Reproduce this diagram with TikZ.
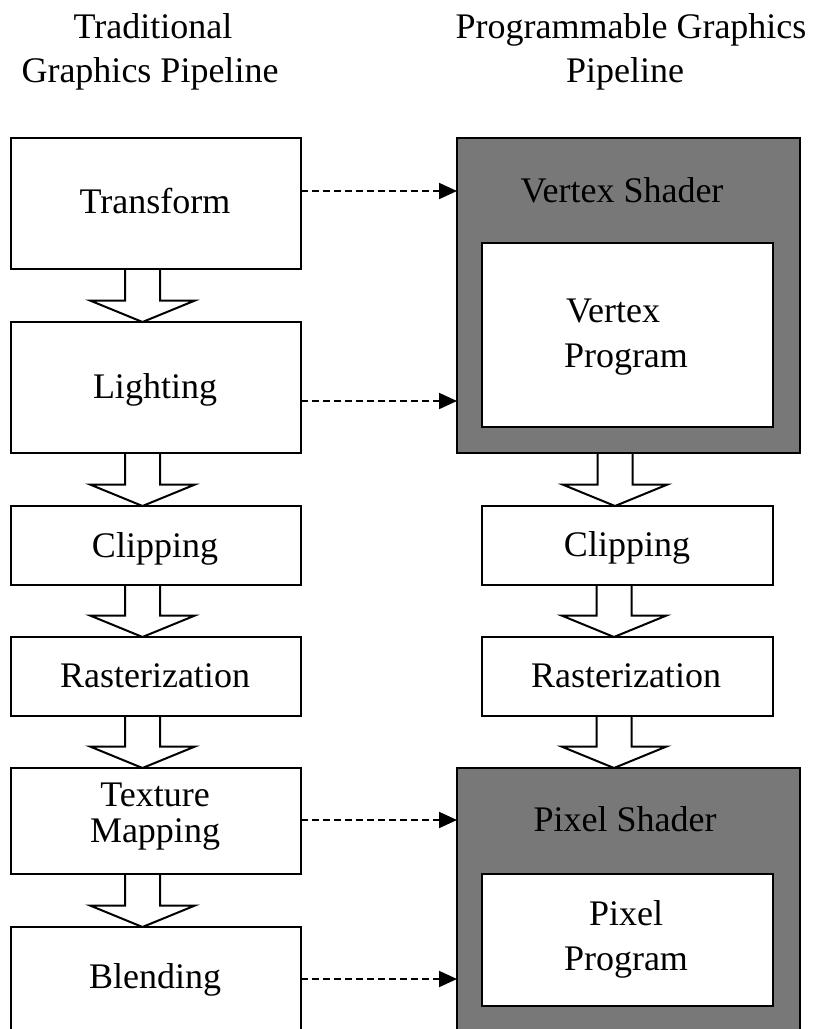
\documentclass[tikz,border=0pt]{standalone}
\usepackage{fontspec}
\setmainfont{Liberation Serif}
\usetikzlibrary{arrows.meta,calc}
\tikzset{
  box/.style={draw=black, line width=2pt, rectangle, inner sep=0pt, outer sep=0pt},
  shader/.style={box, fill=shadegray},
  inbox/.style={box, fill=white},
  txt/.style={font=\fontsize{36}{45}\selectfont, inner sep=0pt, outer sep=0pt},
  dasharr/.style={line width=2pt, dash pattern=on 7pt off 4pt, -{Triangle[length=18pt,width=16pt]}},
  blk/.style={line width=2pt, line join=miter, draw=black}
}
\definecolor{shadegray}{RGB}{120,120,120}
\newcommand\blkarrow[2]{\draw[blk] let \p1=(#1.south), \p2=(#2.north) in
  (\x1-31pt,\y1) -- (\x1-31pt,\y2+21.5pt) -- (\x1-66pt,\y2+21.5pt) -- (\x1-13.5pt,\y2)
  -- (\x1+39pt,\y2+21.5pt) -- (\x1+4pt,\y2+21.5pt) -- (\x1+4pt,\y1);}
\begin{document}
\begin{tikzpicture}[x=1pt,y=-1pt]
\clip (0,0) rectangle (818,1029);
\fill[white] (0,0) rectangle (818,1029);
% titles
\node[txt, anchor=base] (t1) at (153,38) {Traditional};
\node[txt, anchor=base] (t2) at (150,82) {Graphics Pipeline};
\node[txt, anchor=base] (t3) at (631,38) {Programmable Graphics};
\node[txt, anchor=base] (t4) at (625,82) {Pipeline};
% left column boxes
\node[box, minimum width=290pt, minimum height=131pt] (tr) at (156,203.5) {};
\node[box, minimum width=290pt, minimum height=131pt] (li) at (156,387.5) {};
\node[box, minimum width=290pt, minimum height=79pt] (cl) at (156,545.5) {};
\node[box, minimum width=290pt, minimum height=79pt] (ra) at (156,676.5) {};
\node[box, minimum width=290pt, minimum height=106pt] (tm) at (156,821) {};
\node[box, minimum width=290pt, minimum height=118pt] (bl) at (156,986) {};
\node[txt, anchor=base] (trT) at (155,213) {Transform};
\node[txt, anchor=base] (liT) at (155,398) {Lighting};
\node[txt, anchor=base] (clT) at (155,557) {Clipping};
\node[txt, anchor=base] (raT) at (155,687) {Rasterization};
\node[txt, anchor=base] (tmT1) at (155,806) {Texture};
\node[txt, anchor=base] (tmT2) at (155,842) {Mapping};
\node[txt, anchor=base] (blT) at (155,988) {Blending};
% right column
\node[shader, minimum width=343pt, minimum height=315pt] (vs) at (628.5,295.5) {};
\node[inbox, minimum width=291pt, minimum height=184pt] (vp) at (627.5,335) {};
\node[box, minimum width=291pt, minimum height=79pt] (rc) at (627.5,545.5) {};
\node[box, minimum width=291pt, minimum height=79pt] (rr) at (627.5,676.5) {};
\node[shader, minimum width=343pt, minimum height=277pt] (ps) at (628.5,906.5) {};
\node[inbox, minimum width=291pt, minimum height=132pt] (pp) at (627.5,940) {};
\node[txt, anchor=base] (vsT) at (622,202) {Vertex Shader};
\node[txt, anchor=base west] (vpT1) at (566,322) {Vertex};
\node[txt, anchor=base west] (vpT2) at (564,367) {Program};
\node[txt, anchor=base] (rcT) at (627,556) {Clipping};
\node[txt, anchor=base] (rrT) at (626,687) {Rasterization};
\node[txt, anchor=base] (psT) at (625,831) {Pixel Shader};
\node[txt, anchor=base] (ppT1) at (626,925) {Pixel};
\node[txt, anchor=base] (ppT2) at (626,970) {Program};
% block arrows
\blkarrow{tr}{li}
\blkarrow{li}{cl}
\blkarrow{cl}{ra}
\blkarrow{ra}{tm}
\blkarrow{tm}{bl}
\blkarrow{vs}{rc}
\blkarrow{rc}{rr}
\blkarrow{rr}{ps}
% dashed arrows
\coordinate (v1) at (vs.west |- 0,191);
\coordinate (v2) at (vs.west |- 0,401);
\coordinate (p1) at (ps.west |- 0,820);
\coordinate (p2) at (ps.west |- 0,979);
\draw[dasharr] (tr.east |- v1) -- (v1);
\draw[dasharr] (li.east |- v2) -- (v2);
\draw[dasharr] (tm.east |- p1) -- (p1);
\draw[dasharr] (bl.east |- p2) -- (p2);
\end{tikzpicture}
\end{document}
